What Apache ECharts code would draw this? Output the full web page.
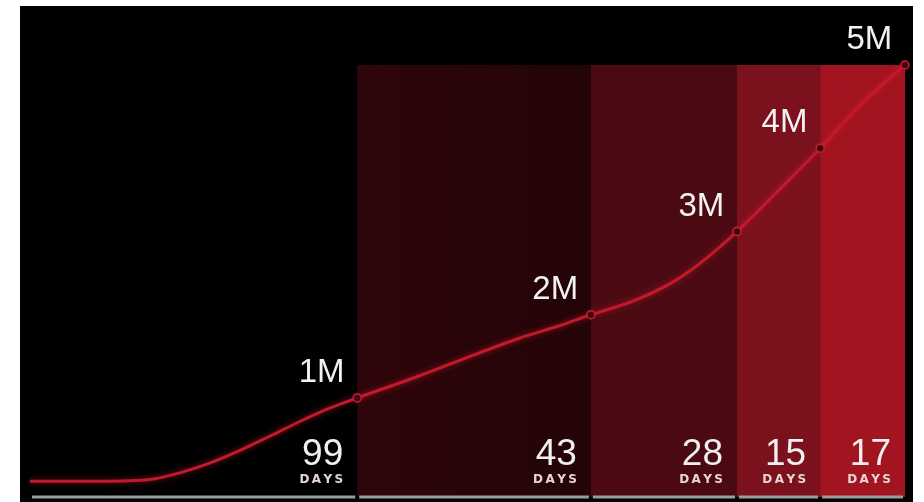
<!DOCTYPE html>
<html>
<head>
<meta charset="utf-8">
<script src="https://cdn.jsdelivr.net/npm/echarts@6/dist/echarts.min.js"></script>
<style>
html,body{margin:0;padding:0;background:#fff;}
#chart{width:924px;height:502px;}
</style>
</head>
<body>
<div id="chart"></div>
<script>
// ---- data ----
// positions along the (non-proportional) timeline, 0..100
const milestonePos = [0, 37.4, 64.1, 80.8, 90.3, 100];
const milestoneValues = [0, 1, 2, 3, 4, 5];            // millions
const milestoneLabels = ['', '1M', '2M', '3M', '4M', '5M'];
const daysBetween = ['99', '43', '28', '15', '17'];
// intermediate points of the curve [timeline position, millions]
const curvePos = [0, 8.0, 13.7, 17.1, 20.6, 24.0, 27.4, 30.9, 34.3, 37.4,
                  44.6, 50.3, 56.0, 60.6, 64.1,
                  68.6, 73.1, 76.6, 80.8,
                  85.7, 90.3,
                  94.9, 100];
const curveVal = [0, 0.0, 0.02, 0.10, 0.22, 0.37, 0.54, 0.72, 0.88, 1,
                  1.27, 1.50, 1.72, 1.87, 2,
                  2.15, 2.37, 2.62, 3,
                  3.51, 4,
                  4.52, 5];
const bandColors = ['rgba(0,0,0,0)', '#2a0509', '#4b0a12', '#7b111d', '#a2141f'];

// ---- build ----
const yMin = -0.19, yMax = 5;
const lineData = curvePos.map((x, i) => {
  const mi = milestonePos.indexOf(x);
  const isM = mi > 0 && milestoneValues[mi] === curveVal[i];
  return {
    value: [x, curveVal[i]],
    symbol: isM ? 'circle' : 'none',
    symbolSize: isM ? 8 : 0,
    label: isM ? {show: true, formatter: milestoneLabels[mi]} : {show: false}
  };
});

const areas = daysBetween.map((d, i) => ([
  {
    xAxis: milestonePos[i],
    itemStyle: {color: i === 1 ? new echarts.graphic.LinearGradient(0, 0, 1, 0, [
      {offset: 0, color: '#2e050a'}, {offset: 1, color: '#230407'}]) : bandColors[i]},
    label: {
      show: true,
      position: 'insideBottomRight',
      distance: 11,
      offset: [-3, 0],
      formatter: '{n|' + d + '}\n{d|D\u2009A\u2009Y\u2009S}',
      rich: {
        n: {fontSize: 37, lineHeight: 36, color: '#f0f0f0', fontFamily: 'Liberation Sans', align: 'right'},
        d: {fontSize: 12, lineHeight: 13, fontWeight: 'bold', color: '#e6d6d8', fontFamily: 'DejaVu Sans', align: 'right'}
      }
    }
  },
  {xAxis: milestonePos[i + 1]}
]));

const segments = daysBetween.map((d, i) => [milestonePos[i], milestonePos[i + 1]]);

const chart = echarts.init(document.getElementById('chart'), null, {renderer: 'canvas'});
chart.setOption({
  backgroundColor: '#ffffff',
  animation: false,
  graphic: [{
    type: 'rect', z: -10, silent: true,
    shape: {x: 20, y: 6, width: 893, height: 496},
    style: {fill: '#000000'}
  }],
  grid: {left: 30, right: 19, top: 65, bottom: 5},
  xAxis: {type: 'value', min: 0, max: 100, show: false},
  yAxis: {type: 'value', min: yMin, max: yMax, show: false},
  series: [
    {
      type: 'line',
      data: lineData,
      smooth: 0.3,
      clip: false,
      z: 5,
      lineStyle: {color: '#c4182d', width: 3, shadowColor: 'rgba(220,30,50,0.6)', shadowBlur: 6},
      itemStyle: {color: '#3a0a10', borderColor: '#d01c32', borderWidth: 1.5},
      label: {
        position: 'left', distance: 8, offset: [0, -25],
        color: '#f2f2f2', fontSize: 33, fontFamily: 'Liberation Sans'
      },
      markArea: {silent: true, data: areas}
    },
    {
      type: 'custom',
      data: segments,
      z: 6,
      renderItem: function (params, api) {
        const p0 = api.coord([api.value(0), yMin]);
        const p1 = api.coord([api.value(1), yMin]);
        return {
          type: 'line',
          shape: {x1: p0[0] + 2, y1: p0[1], x2: p1[0] - 2, y2: p1[1]},
          style: {stroke: '#9c9c9c', lineWidth: 3}
        };
      }
    }
  ]
});
</script>
</body>
</html>
